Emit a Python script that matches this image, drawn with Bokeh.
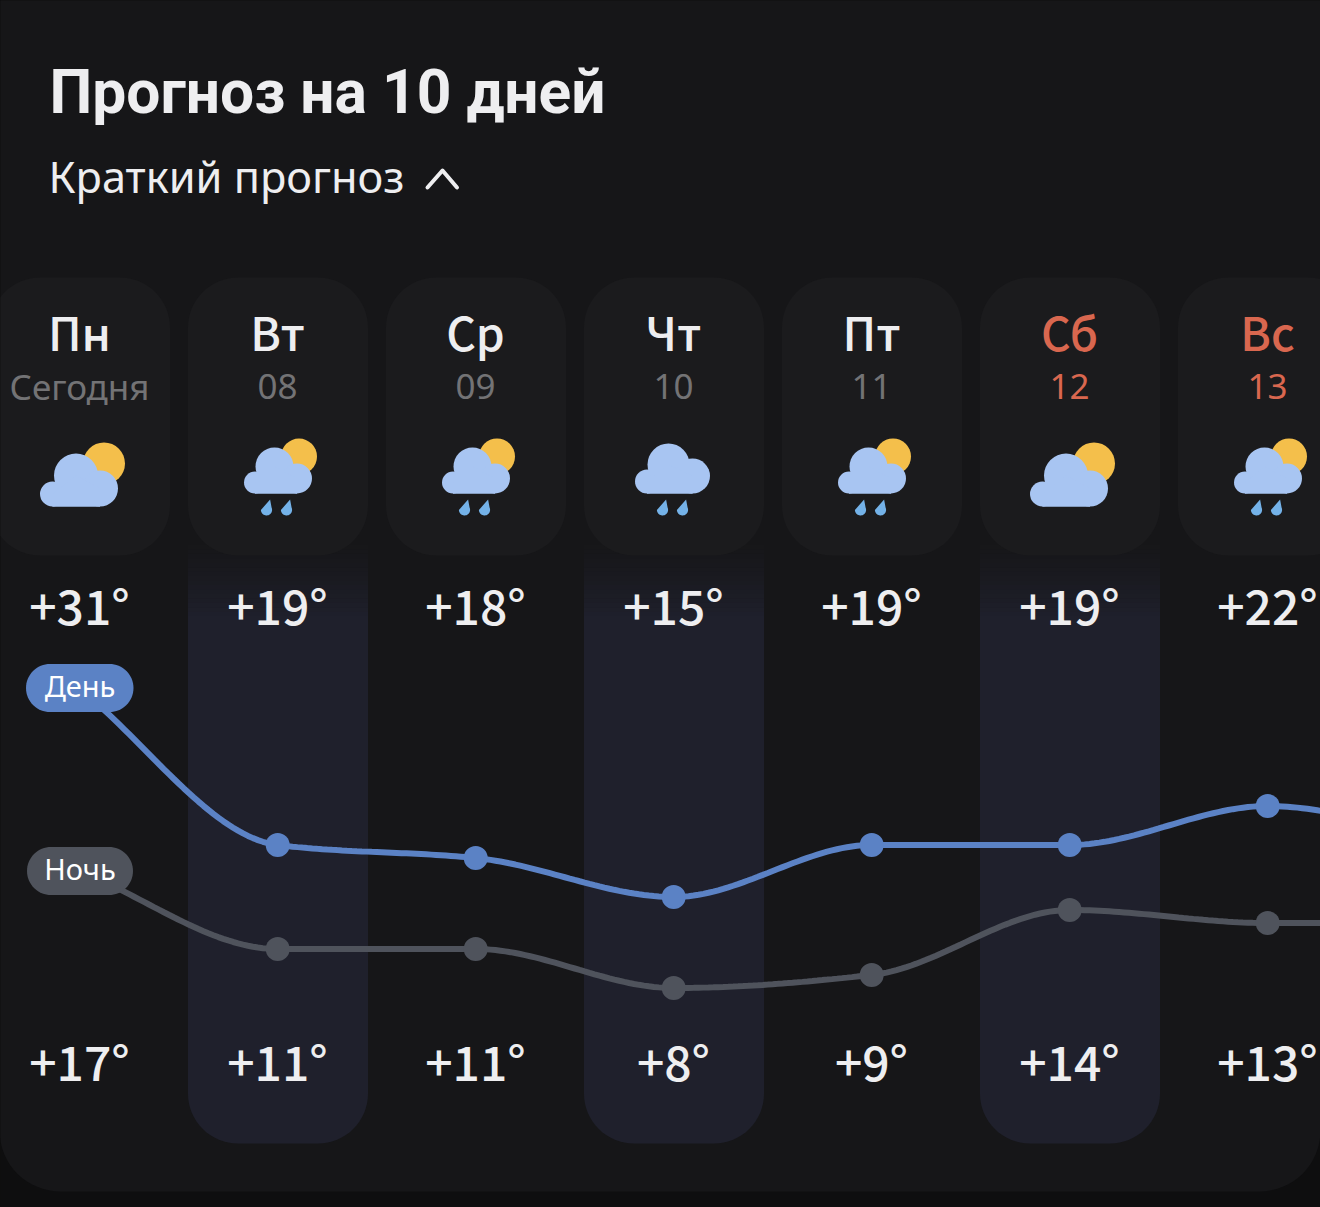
import math
from bokeh.plotting import figure
from bokeh.models import Range1d
from bokeh.core.properties import value
from bokeh.embed import file_html
from bokeh.resources import INLINE

# ---------- data ----------
title_text = "Прогноз на 10 дней"
subtitle_text = "Краткий прогноз"
day_names = ["Пн", "Вт", "Ср", "Чт", "Пт", "Сб", "Вс"]
day_dates = ["Сегодня", "08", "09", "10", "11", "12", "13"]
day_temps = [31, 19, 18, 15, 19, 19, 22]
night_temps = [17, 11, 11, 8, 9, 14, 13]
next_day_temp = 19      # the 8th day is cut off by the right edge
next_night_temp = 13
conditions = ["sun", "rainsun", "rainsun", "rain", "rainsun", "sun", "rainsun"]
band_days = [1, 3, 5]
weekend_days = [5, 6]

# ---------- styles / layout ----------
W, H = 1320, 1207
FONT = "Noto Sans"
MEDIUM = "Noto Sans CJK SC Medium"
TITLE_FONT = "Roboto"
OUTER, BG, CARD, BAND = "#0e0e0f", "#161618", "#1b1b1d", "#1f202c"
TXT, GREY, RED = "#eeeeF0", "#737375", "#d9674f"
BLUE, SLATE = "#5b82c5", "#4f535c"
X0, DX = 79.2, 198        # pixel of day 0 and pixels per day
Y19, PX_DEG = 844.5, 13   # pixel of 19 degrees and pixels per degree

def mono_curve(ys, n=40):
    """monotone cubic through values at x = 0, 1, 2..."""
    d = [ys[i + 1] - ys[i] for i in range(len(ys) - 1)]
    m = [d[0]] + [0.0] * (len(ys) - 2) + [d[-1]]
    for i in range(1, len(ys) - 1):
        if d[i - 1] * d[i] > 0:
            m[i] = 2 * d[i - 1] * d[i] / (d[i - 1] + d[i])
    xs_out, ys_out = [], []
    for i in range(len(ys) - 1):
        for k in range(n):
            t = k / n
            h00 = 2 * t**3 - 3 * t**2 + 1
            h10 = t**3 - 2 * t**2 + t
            h01 = -2 * t**3 + 3 * t**2
            h11 = t**3 - t**2
            xs_out.append(i + t)
            ys_out.append(h00 * ys[i] + h10 * m[i] + h01 * ys[i + 1] + h11 * m[i + 1])
    xs_out.append(len(ys) - 1)
    ys_out.append(ys[-1])
    return xs_out, ys_out

def rrect(l, t, r, b, rt, rb):
    xs, ys = [], []
    corners = [(l + rt, t + rt, rt, 180), (r - rt, t + rt, rt, 270), (r - rb, b - rb, rb, 0), (l + rb, b - rb, rb, 90)]
    for cx, cy, rad, start in corners:
        for k in range(17):
            a = math.radians(start + 90 * k / 16)
            xs.append(cx + rad * math.cos(a))
            ys.append(cy + rad * math.sin(a))
    return xs, ys

def mix(a, b, t):
    ca = [int(a[i:i + 2], 16) for i in (1, 3, 5)]
    cb = [int(b[i:i + 2], 16) for i in (1, 3, 5)]
    return "#%02x%02x%02x" % tuple(round(x + (y - x) * t) for x, y in zip(ca, cb))

p = figure(width=W, height=H, output_backend="svg", toolbar_location=None,
           x_range=Range1d(-X0 / DX, (W - X0) / DX),
           y_range=Range1d(19 - (H - Y19) / PX_DEG, 19 + Y19 / PX_DEG),
           min_border=0, min_border_left=0, min_border_right=0, min_border_top=0, min_border_bottom=0,
           background_fill_color=OUTER, border_fill_color=OUTER, outline_line_color=None)
p.axis.visible = False
p.grid.visible = False
p.extra_x_ranges["px"] = Range1d(0, W)
p.extra_y_ranges["px"] = Range1d(H, 0)
PX = dict(x_range_name="px", y_range_name="px")

def shape(xs, ys, color):
    p.patch(xs, ys, fill_color=color, line_color=None, **PX)

def label(x, y, s, size, color, weight="normal", align="center", font=FONT):
    # the svg backend puts the alphabetic baseline lower than asked: lift it back
    p.text([x], [y - 0.39 * size], text=[s], text_font=value(font), text_font_size=f"{size}px", text_color=color,
           text_font_style=weight, text_align=align, text_baseline="alphabetic", **PX)

def disc(cx, cy, r, color):
    p.scatter([cx], [cy], size=2 * r, marker="circle", fill_color=color, line_color=None, **PX)

def drop(cx, top, bottom, color):
    r = 5.6
    cy = bottom - r
    xs, ys = [cx + 3.6], [top]
    for k in range(25):
        a = math.radians(-25 + 205 * k / 24)
        xs.append(cx + r * math.cos(a))
        ys.append(cy + r * math.sin(a))
    shape(xs, ys, color)

def cloud(cx, bottom, lb, big, rb, color):
    # lb, big, rb are (dx, cy, radius)
    for dx, cy, rad in (lb, big, rb):
        disc(cx + dx, cy, rad, color)
    shape([cx + lb[0], cx + rb[0], cx + rb[0], cx + lb[0]], [rb[1], rb[1], bottom, bottom], color)
    shape([cx + big[0], cx + rb[0], cx + rb[0], cx + lb[0], cx + lb[0]],
          [big[1], rb[1], bottom, bottom, lb[1]], color)

def icon(kind, cx):
    CL, SUN, DROP = "#a8c5f2", "#f4bf4b", "#74b2e8"
    if kind == "sun":
        disc(cx + 25, 463, 21, SUN)
        cloud(cx, 506, (-26.5, 493.5, 12.5), (-3, 475, 22), (21, 488, 18), CL)
    elif kind == "rainsun":
        disc(cx + 22, 456, 18, SUN)
        cloud(cx, 493, (-22, 482, 11), (-2.5, 466, 19), (20, 478, 15), CL)
        drop(cx - 10.5, 499, 515, DROP)
        drop(cx + 9.5, 499, 515, DROP)
    else:
        cloud(cx, 493, (-26, 481, 12), (-4.5, 464, 21), (19.5, 475.5, 17.5), CL)
        drop(cx - 10.5, 499, 515, DROP)
        drop(cx + 9.5, 499, 515, DROP)

# outer card
xs, ys = rrect(-1, -200, W, 1191, 60, 61)
shape(xs, ys, BG)

# tinted bands
LAB_X = [79 + DX * i for i in range(7)]
for i in band_days:
    l, r = LAB_X[i] - 89.5, LAB_X[i] + 90.5
    xs, ys = rrect(l, 620, r, 1143, 0.01, 50)
    shape(xs, ys, BAND)
    steps = 18
    for k in range(steps):
        t0 = 540 + (620 - 540) * k / steps
        t1 = 540 + (620 - 540) * (k + 1) / steps + 0.5
        shape([l, r, r, l], [t0, t0, t1, t1], mix(BG, BAND, ((k + 1) / steps) ** 1.3))

# head cards
for i in range(7):
    xs, ys = rrect(LAB_X[i] - 89.5, 277, LAB_X[i] + 90.5, 555, 50, 50)
    shape(xs, ys, CARD)

# titles
label(49, 115.5, title_text, 60.5, TXT, "bold", "left", TITLE_FONT)
label(48, 193, subtitle_text, 43.3, TXT, "normal", "left")
p.line([427, 442, 456.5], [187, 170, 187], line_color=TXT, line_width=4, line_cap="round", line_join="round", **PX)

# column heads and temperatures
for i in range(7):
    col = RED if i in weekend_days else TXT
    sub = RED if i in weekend_days else GREY
    label(LAB_X[i], 348, day_names[i], 46, col, font=MEDIUM)
    label(LAB_X[i], 400, day_dates[i], 35, sub)
    icon(conditions[i], LAB_X[i] - 0.5)
    label(LAB_X[i], 622, f"+{day_temps[i]}°", 48, TXT, font=MEDIUM)
    label(LAB_X[i], 1078, f"+{night_temps[i]}°", 48, TXT, font=MEDIUM)

# temperature curves, on day / degree scales
nx, ny = mono_curve(night_temps + [next_night_temp])
dx, dy = mono_curve(day_temps + [next_day_temp])
p.line(nx, ny, line_color=SLATE, line_width=6)
p.line(dx, dy, line_color=BLUE, line_width=6)
days = list(range(7))
p.scatter(days[1:], night_temps[1:], size=24, marker="circle", fill_color=SLATE, line_color=None)
p.scatter(days[1:], day_temps[1:], size=24, marker="circle", fill_color=BLUE, line_color=None)

# pills
xs, ys = rrect(25.5, 663.5, 133, 711.5, 24, 24)
shape(xs, ys, BLUE)
label(79.5, 696.5, "День", 29, "#ffffff")
xs, ys = rrect(26.5, 846.5, 132.5, 894.5, 24, 24)
shape(xs, ys, SLATE)
label(79.5, 879.5, "Ночь", 29, "#ffffff")

html = file_html(p, INLINE)
html = html.replace("<head>", f"<head><style>html,body{{margin:0;padding:0;overflow:hidden;background:{OUTER}}}</style>", 1)
open("out.html", "w").write(html)
